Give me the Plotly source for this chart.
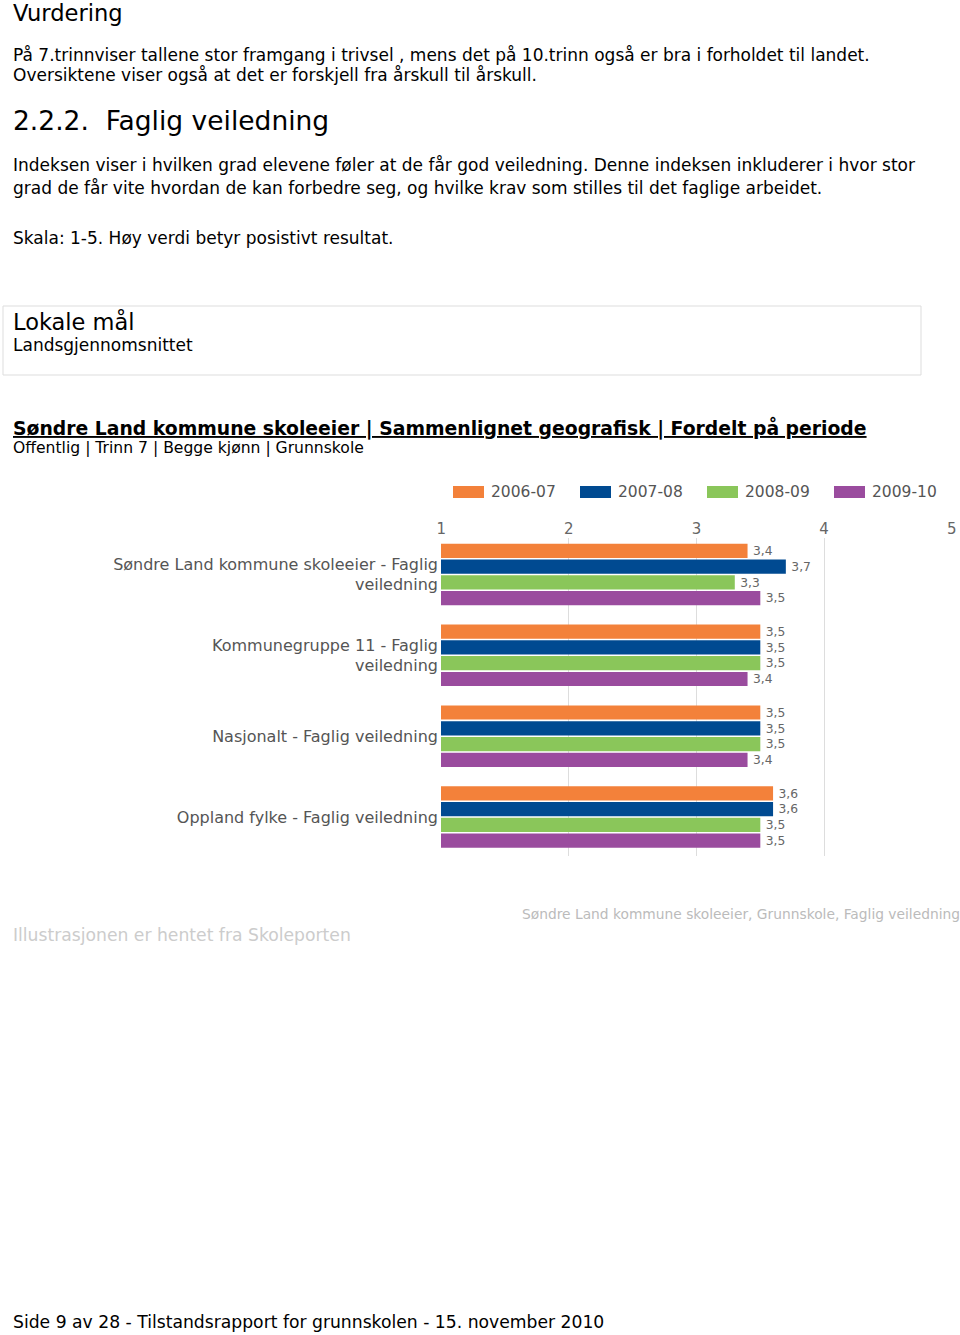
import plotly.graph_objects as go

# ---- data ----
categories = [
    "Søndre Land kommune skoleeier - Faglig<br>veiledning",
    "Kommunegruppe 11 - Faglig<br>veiledning",
    "Nasjonalt - Faglig veiledning",
    "Oppland fylke - Faglig veiledning",
]
periods = ["2006-07", "2007-08", "2008-09", "2009-10"]
values_2006_07 = [3.4, 3.5, 3.5, 3.6]
values_2007_08 = [3.7, 3.5, 3.5, 3.6]
values_2008_09 = [3.3, 3.5, 3.5, 3.5]
values_2009_10 = [3.5, 3.4, 3.4, 3.5]
series = [values_2006_07, values_2007_08, values_2008_09, values_2009_10]
colors = ["#F3813A", "#004A91", "#8AC65A", "#9A4C9E"]
x_ticks = [1, 2, 3, 4, 5]

W, H = 960, 1335
FONT = "DejaVu Sans"
PAD = 2  # annotation inner offset


def X(px):
    return px / W


def Y(py):
    return 1 - py / H


fig = go.Figure()
for name, vals, col in zip(periods, series, colors):
    fig.add_trace(go.Bar(
        y=categories, x=vals, name=name, orientation="h",
        marker=dict(color=col, line=dict(width=0)),
        texttemplate="\u2009%{x:.1f}", textposition="outside",
        textfont=dict(family=FONT, size=13, color="#666666"),
        cliponaxis=False,
    ))

annotations = []


def txt(s, x, y, size, color="#000000", anchor="left"):
    annotations.append(dict(
        text=s, x=X(x - PAD if anchor == "left" else x + PAD), y=Y(y),
        xref="paper", yref="paper",
        xanchor=anchor, yanchor="middle", showarrow=False,
        font=dict(family=FONT, size=size, color=color), align=anchor,
    ))


txt("Vurdering", 13, 13, 22.6)
txt("På 7.trinnviser tallene stor framgang i trivsel , mens det på 10.trinn også er bra i forholdet til landet.", 13, 55, 17)
txt("Oversiktene viser også at det er forskjell fra årskull til årskull.", 13, 75, 17)
txt("2.2.2.  Faglig veiledning", 13, 121, 26.5)
txt("Indeksen viser i hvilken grad elevene føler at de får god veiledning. Denne indeksen inkluderer i hvor stor", 13, 165, 17)
txt("grad de får vite hvordan de kan forbedre seg, og hvilke krav som stilles til det faglige arbeidet.", 13, 188, 17)
txt("Skala: 1-5. Høy verdi betyr posistivt resultat.", 13, 238, 17)
txt("Lokale mål", 13, 321, 22.5)
txt("Landsgjennomsnittet", 13, 345, 17)
txt("<b><u>Søndre Land kommune skoleeier | Sammenlignet geografisk | Fordelt på periode</u></b>", 13, 428, 18.8)
txt("Offentlig | Trinn 7 | Begge kjønn | Grunnskole", 13, 448, 15.6)
txt("Søndre Land kommune skoleeier, Grunnskole, Faglig veiledning", 522, 914, 13.8, "#BBBBBB")
txt("Illustrasjonen er hentet fra Skoleporten", 13, 935, 17.2, "#CCCCCC")
txt("Side 9 av 28 - Tilstandsrapport for grunnskolen - 15. november 2010", 13, 1322, 17.2)

shapes = [dict(type="rect", xref="paper", yref="paper",
               x0=X(3), x1=X(921), y0=Y(306), y1=Y(375),
               line=dict(color="#DDDDDD", width=1), fillcolor="rgba(0,0,0,0)")]

# custom legend (wide swatches)
for i, (name, col) in enumerate(zip(periods, colors)):
    x0 = 453 + 127 * i
    shapes.append(dict(type="rect", xref="paper", yref="paper",
                       x0=X(x0), x1=X(x0 + 31), y0=Y(498), y1=Y(486),
                       line=dict(width=0), fillcolor=col))
    txt(name, x0 + 38, 492, 15.5, "#555555")

fig.update_layout(
    width=W, height=H,
    margin=dict(l=0, r=0, t=0, b=0, autoexpand=False),
    paper_bgcolor="white", plot_bgcolor="white",
    barmode="group", bargap=0.22, bargroupgap=0.1,
    separators=", ",
    font=dict(family=FONT, color="#555555"),
    showlegend=False,
    xaxis=dict(
        domain=[X(441), X(952)], range=[0.998, 5.002], side="top",
        tickvals=x_ticks, ticktext=[str(v) for v in x_ticks],
        tickfont=dict(family=FONT, size=15, color="#666666"),
        showgrid=True, gridcolor="#DDDDDD", gridwidth=1,
        zeroline=False, showline=False, ticks="", automargin=False,
    ),
    yaxis=dict(
        domain=[Y(856), Y(538)], range=[3.4825, -0.4516],
        tickfont=dict(family=FONT, size=16, color="#555555"),
        showgrid=False, zeroline=False, showline=False, ticks="",
        ticklabelstandoff=2, automargin=False,
    ),
    annotations=annotations, shapes=shapes,
)

# remove the browser's default 8px body margin so the page matches the reference
fig.write_html("out.html", config={"displayModeBar": False},
               post_script="document.body.style.margin='0';")
